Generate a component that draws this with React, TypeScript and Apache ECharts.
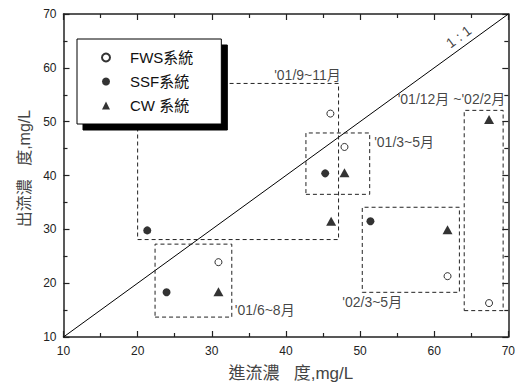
import React, { useEffect, useRef } from "react";
import * as echarts from "echarts";

// Data (influent vs effluent concentration, mg/L)
const fwsX = [46.0, 47.9, 30.9, 61.8, 67.4];
const fwsY = [51.5, 45.3, 23.9, 21.3, 16.3];
const ssfX = [21.3, 45.3, 51.4, 23.9];
const ssfY = [29.8, 40.4, 31.5, 18.3];
const cwX = [67.4, 47.9, 46.1, 61.8, 30.9];
const cwY = [50.4, 40.5, 31.5, 29.9, 18.4];

const seriesNames = ["FWS系統", "SSF系統", "CW 系統"];

// Dashed period boxes
const boxXMin = [20.0, 42.7, 50.3, 22.35, 64.05];
const boxXMax = [47.1, 51.3, 63.4, 32.7, 69.3];
const boxYMin = [28.1, 36.5, 18.3, 13.7, 14.9];
const boxYMax = [57.1, 47.9, 34.1, 27.25, 52.1];

// Period labels
const labelText = ["'01/9~11月", "'01/3~5月", "'02/3~5月", "'01/6~8月", "'01/12月 ~'02/2月", "1 : 1"];
const labelX = [47.4, 51.9, 47.6, 33.1, 69.6, 63.3];
const labelY = [58.6, 46.25, 16.5, 15.1, 54.3, 65.8];
const labelAlign = ["right", "left", "left", "left", "right", "center"];
const labelRotate = [0, 0, 0, 0, 0, 36];

const axisMin = 10;
const axisMax = 70;
const axisInterval = 10;

const FONT = "'Liberation Sans', Arial, 'Noto Sans CJK TC', sans-serif";

export default function App() {
  const ref = useRef<HTMLDivElement>(null);

  useEffect(() => {
    if (!ref.current) return;
    const chart = echarts.init(ref.current, undefined, { renderer: "svg" });

    const zip = (xs: number[], ys: number[]) => xs.map((x, i) => [x, ys[i]]);

    const boxSeries = boxXMin.map((x0, i) => ({
      type: "line",
      silent: true,
      symbol: "none",
      xAxisIndex: 0,
      yAxisIndex: 0,
      lineStyle: { color: "#222", width: 1, type: [4, 3] },
      data: [
        [x0, boxYMin[i]],
        [boxXMax[i], boxYMin[i]],
        [boxXMax[i], boxYMax[i]],
        [x0, boxYMax[i]],
        [x0, boxYMin[i]],
      ],
      z: 2,
    }));

    const axisCommon = {
      type: "value",
      min: axisMin,
      max: axisMax,
      interval: axisInterval,
      axisLine: { show: true, onZero: false, lineStyle: { color: "#222", width: 1.5 } },
      axisTick: { show: true, inside: true, length: 6, lineStyle: { color: "#222", width: 1.2 } },
      minorTick: { show: true, splitNumber: 2, length: 4, lineStyle: { color: "#222", width: 1.2 } },
      splitLine: { show: false },
    };

    const option: any = {
      animation: false,
      textStyle: { fontFamily: FONT },
      grid: { left: 63.5, right: 5, top: 14, bottom: 48, containLabel: false },
      xAxis: [
        {
          ...axisCommon,
          position: "bottom",
          axisLabel: { color: "#222", fontSize: 12, margin: 8, fontFamily: FONT },
          name: "進流濃   度,mg/L",
          nameLocation: "middle",
          nameGap: 28,
          nameTextStyle: { color: "#444", fontSize: 17, fontFamily: FONT, padding: [0, 0, 0, 10] },
        },
        { ...axisCommon, position: "top", axisLabel: { show: false } },
      ],
      yAxis: [
        {
          ...axisCommon,
          position: "left",
          axisLabel: { color: "#222", fontSize: 12, margin: 7, fontFamily: FONT },
          name: "出流濃   度,mg/L",
          nameLocation: "middle",
          nameGap: 28,
          nameTextStyle: { color: "#444", fontSize: 16, fontFamily: FONT, padding: [0, 0, 0, 14] },
        },
        { ...axisCommon, position: "right", axisLabel: { show: false } },
      ],
      legend: {
        data: seriesNames,
        orient: "vertical",
        left: 77,
        top: 39,
        padding: [11, 28, 11, 24],
        itemWidth: 8,
        itemHeight: 8,
        itemGap: 9,
        backgroundColor: "#fff",
        borderColor: "#000",
        borderWidth: 1,
        borderRadius: 0,
        shadowColor: "#000",
        shadowBlur: 0,
        shadowOffsetX: 6,
        shadowOffsetY: 6,
        textStyle: { fontSize: 15, color: "#111", fontFamily: FONT, padding: [0, 0, 0, 15] },
        z: 10,
      },
      series: [
        {
          type: "line",
          silent: true,
          symbol: "none",
          data: [
            [axisMin, axisMin],
            [axisMax, axisMax],
          ],
          lineStyle: { color: "#000", width: 1 },
          z: 1,
        },
        ...boxSeries,
        {
          name: seriesNames[0],
          type: "scatter",
          symbol: "circle",
          symbolSize: 7,
          itemStyle: { color: "#fff", borderColor: "#000", borderWidth: 1 },
          data: zip(fwsX, fwsY),
          z: 4,
        },
        {
          name: seriesNames[1],
          type: "scatter",
          symbol: "circle",
          symbolSize: 8,
          itemStyle: { color: "#000" },
          data: zip(ssfX, ssfY),
          z: 4,
        },
        {
          name: seriesNames[2],
          type: "scatter",
          symbol: "triangle",
          symbolSize: [10, 9],
          itemStyle: { color: "#000" },
          data: zip(cwX, cwY),
          z: 4,
        },
        {
          type: "scatter",
          silent: true,
          symbolSize: 0,
          clip: false,
          data: labelText.map((t, i) => ({
            value: [labelX[i], labelY[i]],
            name: t,
            label: {
              show: true,
              position: [0, 0],
              formatter: t,
              align: labelAlign[i],
              verticalAlign: "middle",
              rotate: labelRotate[i],
              fontSize: 14,
              color: "#111",
              fontFamily: FONT,
            },
          })),
          z: 6,
        },
      ],
    };

    chart.setOption(option);
    return () => chart.dispose();
  }, []);

  return (
    <div
      ref={ref}
      style={{ position: "fixed", left: 0, top: 0, width: 518, height: 387, background: "#fff" }}
    />
  );
}
